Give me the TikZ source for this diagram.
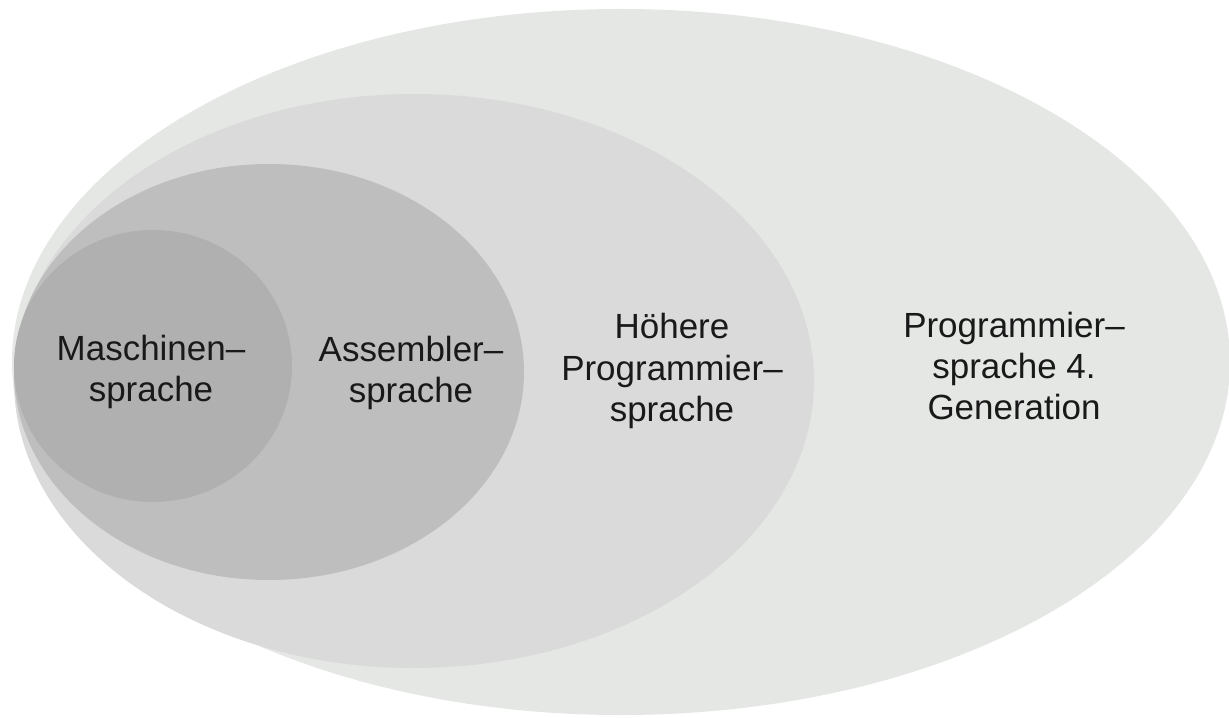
\documentclass[tikz,border=0pt]{standalone}
\usepackage{fontspec}
\setmainfont{Liberation Sans}

\definecolor{genfour}{HTML}{E4E7E4}
\definecolor{genthree}{HTML}{DADADA}
\definecolor{gentwo}{HTML}{BEBEBE}
\definecolor{genone}{HTML}{B0B0B0}

\begin{document}
\begin{tikzpicture}[x=0.02cm, y=0.02cm,
    label/.style={align=center, text=black!90,
        font=\fontsize{19.9}{23.5}\selectfont}]

    % Page frame, 1229 x 717 units
    \def\W{1229}
    \def\H{717}
    \clip (0,0) rectangle (\W,\H);
    \fill[white] (0,0) rectangle (\W,\H);

    % Nested ellipses, from the outside in
    \fill[genfour]  (621,355) ellipse [x radius=609, y radius=353]; % 4. Generation
    \fill[genthree] (414,336) ellipse [x radius=400, y radius=287]; % hoehere Sprachen
    \fill[gentwo]   (269,345) ellipse [x radius=255, y radius=208]; % Assembler
    \fill[genone]   (153,351) ellipse [x radius=139, y radius=136]; % Maschinensprache

    % Labels
    \node[label] (maschine)  at (151,345) {Maschinen–\\sprache};
    \node[label] (assembler) at (411,344) {Assembler–\\sprache};
    \node[label] (hoehere)   at (672,346) {Höhere\\Programmier–\\sprache};
    \node[label] (vierte)    at (1014,351) {Programmier–\\sprache 4.\\Generation};

\end{tikzpicture}
\end{document}
